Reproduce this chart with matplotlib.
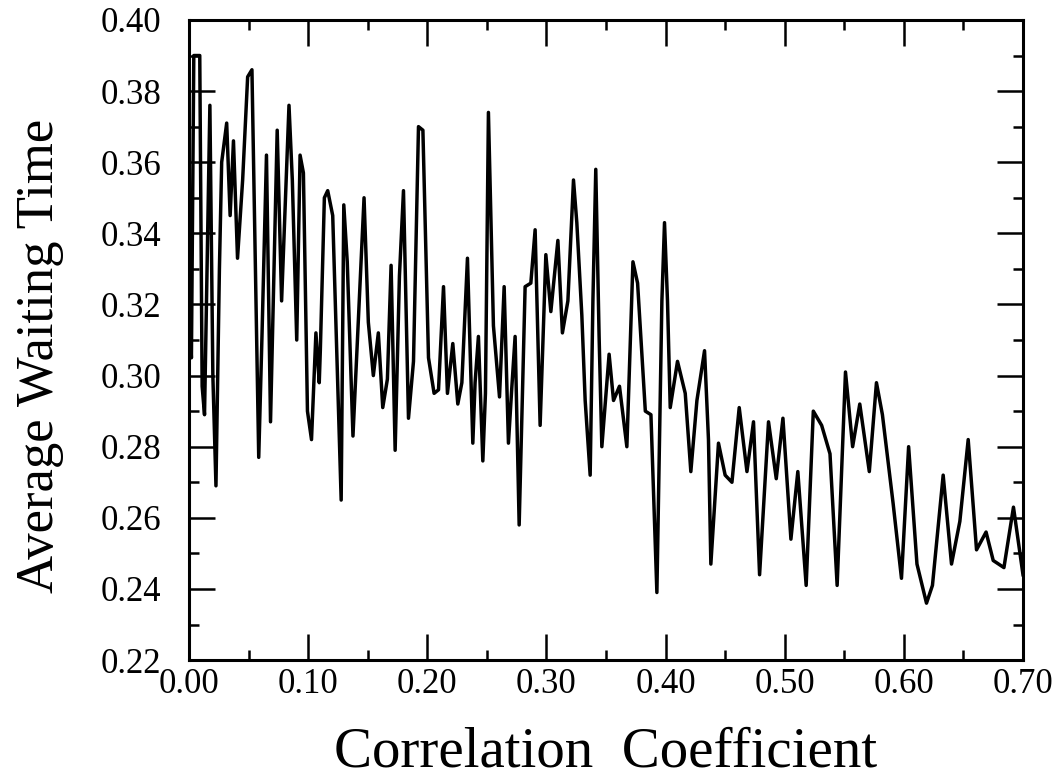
import numpy as np
from matplotlib import pyplot as plt
from matplotlib.ticker import MultipleLocator, FormatStrFormatter

# traced vertices of the curve (correlation coefficient, average waiting time)
corr = [0.000, 0.002, 0.004, 0.009, 0.011, 0.013, 0.0175, 0.020, 0.0226, 0.0255,
        0.0274, 0.0316, 0.0345, 0.0373, 0.0407, 0.045, 0.0492, 0.0528, 0.0585, 0.0613,
        0.065, 0.0684, 0.074, 0.0777, 0.0839, 0.0867, 0.0904, 0.0932, 0.096, 0.0994,
        0.1028, 0.1065, 0.1093, 0.1102, 0.1136, 0.1164, 0.1206, 0.1277, 0.1299, 0.1328,
        0.1376, 0.1469, 0.1505, 0.1547, 0.1589, 0.1626, 0.1665, 0.1696, 0.173, 0.1766,
        0.180, 0.1842, 0.1884, 0.1926, 0.1963, 0.201, 0.2057, 0.2094, 0.2136, 0.2169,
        0.2214, 0.2256, 0.229, 0.2337, 0.2382, 0.2401, 0.2429, 0.2466, 0.2488, 0.2513,
        0.2555, 0.2606, 0.2645, 0.2681, 0.271, 0.2737, 0.2771, 0.2821, 0.2869, 0.2905,
        0.2947, 0.2995, 0.3037, 0.3096, 0.3134, 0.318, 0.3227, 0.3255, 0.3297, 0.3325,
        0.3367, 0.339, 0.3414, 0.3442, 0.3465, 0.3493, 0.3526, 0.3563, 0.3613, 0.3675,
        0.3726, 0.3765, 0.383, 0.3877, 0.3927, 0.3969, 0.3991, 0.4016, 0.4039, 0.410,
        0.4165, 0.4212, 0.4263, 0.4327, 0.436, 0.438, 0.4444, 0.450, 0.4557, 0.4618,
        0.4683, 0.4738, 0.4789, 0.4864, 0.4929, 0.4985, 0.5052, 0.511, 0.518, 0.524,
        0.531, 0.538, 0.544, 0.551, 0.557, 0.563, 0.571, 0.577, 0.582, 0.591,
        0.598, 0.604, 0.611, 0.619, 0.624, 0.633, 0.640, 0.647, 0.654, 0.661,
        0.669, 0.675, 0.684, 0.692, 0.700]
wait = [0.320, 0.305, 0.390, 0.390, 0.297, 0.289, 0.376, 0.300, 0.269, 0.330,
        0.360, 0.371, 0.345, 0.366, 0.333, 0.355, 0.384, 0.386, 0.277, 0.312,
        0.362, 0.287, 0.369, 0.321, 0.376, 0.355, 0.310, 0.362, 0.357, 0.290,
        0.282, 0.312, 0.298, 0.307, 0.350, 0.352, 0.345, 0.265, 0.348, 0.332,
        0.283, 0.350, 0.315, 0.300, 0.312, 0.291, 0.299, 0.331, 0.279, 0.328,
        0.352, 0.288, 0.304, 0.370, 0.369, 0.305, 0.295, 0.296, 0.325, 0.295,
        0.309, 0.292, 0.298, 0.333, 0.281, 0.298, 0.311, 0.276, 0.295, 0.374,
        0.314, 0.294, 0.325, 0.281, 0.297, 0.311, 0.258, 0.325, 0.326, 0.341,
        0.286, 0.334, 0.318, 0.338, 0.312, 0.321, 0.355, 0.343, 0.317, 0.293,
        0.272, 0.321, 0.358, 0.311, 0.280, 0.292, 0.306, 0.293, 0.297, 0.280,
        0.332, 0.326, 0.290, 0.289, 0.239, 0.321, 0.343, 0.321, 0.291, 0.304,
        0.295, 0.273, 0.293, 0.307, 0.282, 0.247, 0.281, 0.272, 0.270, 0.291,
        0.273, 0.287, 0.244, 0.287, 0.271, 0.288, 0.254, 0.273, 0.241, 0.290,
        0.286, 0.278, 0.241, 0.301, 0.280, 0.292, 0.273, 0.298, 0.289, 0.264,
        0.243, 0.280, 0.247, 0.236, 0.241, 0.272, 0.247, 0.259, 0.282, 0.251,
        0.256, 0.248, 0.246, 0.263, 0.244]

plt.rcParams['font.family'] = ['Liberation Serif', 'DejaVu Serif']

fig = plt.figure(figsize=(10.59, 7.83), dpi=100)
ax = fig.add_axes([0.1785, 0.157, 0.7875, 0.8175])

ax.plot(corr, wait, color='black', linewidth=2.5)

ax.set_xlim(0.0, 0.70)
ax.set_ylim(0.22, 0.40)
ax.xaxis.set_major_locator(MultipleLocator(0.10))
ax.xaxis.set_minor_locator(MultipleLocator(0.05))
ax.yaxis.set_major_locator(MultipleLocator(0.02))
ax.yaxis.set_minor_locator(MultipleLocator(0.01))
ax.xaxis.set_major_formatter(FormatStrFormatter('%.2f'))
ax.yaxis.set_major_formatter(FormatStrFormatter('%.2f'))

ax.tick_params(which='both', direction='in', top=True, right=True, width=1.8)
ax.tick_params(which='major', length=19, labelsize=25)
ax.tick_params(axis='y', which='major', pad=20)
ax.tick_params(axis='x', which='major', pad=6)
ax.tick_params(which='minor', length=7)
for s in ax.spines.values():
    s.set_linewidth(2.2)

ax.set_xlabel('Correlation  Coefficient', fontsize=41, labelpad=18)
ax.set_ylabel('Average Waiting Time', fontsize=38)
ax.yaxis.set_label_coords(-0.15, 0.475)

plt.savefig('out.png', dpi=100)
